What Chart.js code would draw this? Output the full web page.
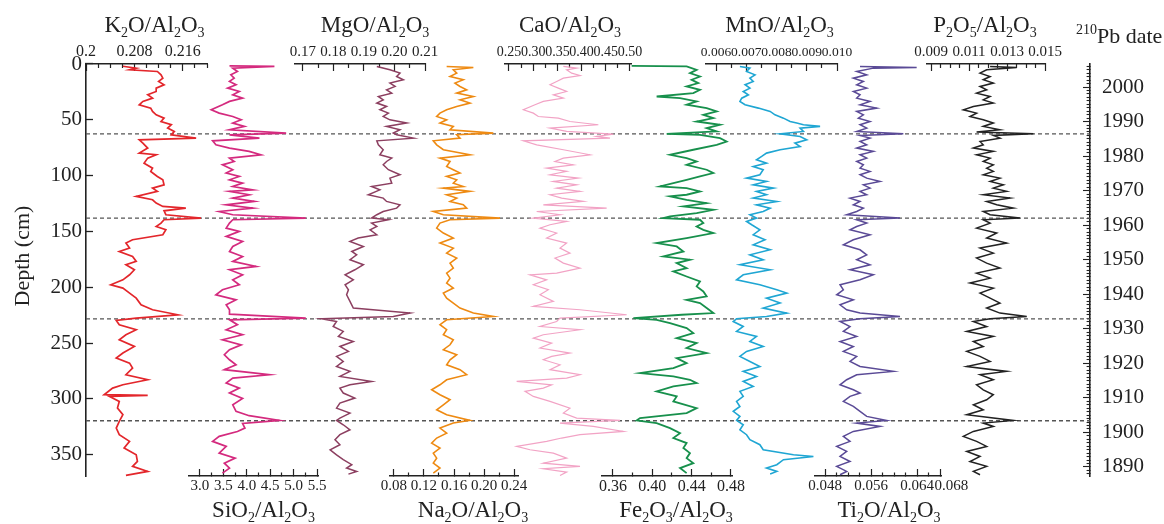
<!DOCTYPE html>
<html><head><meta charset="utf-8">
<script src="https://cdn.jsdelivr.net/npm/chart.js@4.4.1/dist/chart.umd.min.js"></script>
<style>html,body{margin:0;padding:0;background:#fff}</style>
</head><body>
<canvas id="c" width="1164" height="524"></canvas>
<script>
// ---------------- data (depth cm, ratio) ----------------
const K2O = [[2,0.2061],[3.7,0.2083],[5.2,0.2072],[6.7,0.2118],[9.7,0.2124],[12.7,0.2127],[15.6,0.2120],[18.6,0.2129],[21.6,0.2116],[24.6,0.2116],[27.6,0.2102],[30.6,0.2110],[33.5,0.2094],[36.5,0.2088],[39.5,0.2107],[42.5,0.2110],[45.5,0.2116],[48.5,0.2129],[51.5,0.2124],[54.4,0.2141],[57.4,0.2135],[60.4,0.2146],[63.4,0.2141],[66.4,0.2182],[67.9,0.2088],[70.9,0.2094],[75.3,0.2102],[79.8,0.2088],[81.3,0.2116],[84.3,0.2102],[88.8,0.2096],[93.3,0.2110],[96.2,0.2107],[100.7,0.2118],[103.7,0.2127],[108.2,0.2129],[111.2,0.2110],[114.1,0.2118],[118.6,0.2083],[121.6,0.2110],[124.6,0.2116],[127.6,0.2127],[129.1,0.2165],[131.5,0.2129],[135,0.2132],[138,0.2190],[139.5,0.2129],[142.5,0.2124],[145.5,0.2116],[148.5,0.2132],[152.9,0.2127],[157.4,0.2077],[160.4,0.2066],[164.9,0.2072],[167.9,0.2055],[172.4,0.2077],[176.8,0.2083],[179.8,0.2066],[184.3,0.2080],[188.8,0.2072],[193.3,0.2061],[197.7,0.2041],[200.7,0.2061],[205.2,0.2072],[209.7,0.2083],[215.6,0.2091],[220.1,0.2110],[224.6,0.2152],[227.6,0.2083],[229.7,0.2050],[233.5,0.2055],[238,0.2083],[242.5,0.2066],[247,0.2055],[252.9,0.2080],[258.9,0.2061],[263.4,0.2050],[267.9,0.2072],[272.4,0.2077],[278.3,0.2066],[282.8,0.2102],[287.3,0.2061],[290.3,0.2044],[296.2,0.2030],[296.8,0.2102],[297.7,0.2039],[302.2,0.2055],[308.2,0.2052],[314.1,0.2061],[320.1,0.2055],[326.1,0.2050],[332,0.2055],[338,0.2072],[344,0.2063],[350,0.2083],[355.9,0.2085],[360.4,0.2077],[364.9,0.2102],[368.5,0.2066]];

const SIO2 = [[1.6,3.63],[2.2,4.59],[3.7,3.70],[6.7,3.80],[9.7,3.66],[12.7,3.73],[15.6,3.63],[18.6,3.77],[21.6,3.59],[24.6,3.84],[27.6,3.70],[30.6,3.91],[33.5,3.63],[36.5,3.48],[41,3.24],[44,3.41],[47,3.70],[50,3.88],[52.9,3.70],[55.9,3.95],[58.9,3.63],[61.9,4.84],[63.4,3.63],[66.4,4.27],[68.8,3.27],[72.4,3.34],[75.3,3.63],[78.3,4.05],[81.3,4.30],[84.3,3.63],[87.3,3.73],[90.3,3.48],[94.7,3.70],[97.7,3.56],[100.7,3.84],[103.7,3.63],[106.7,3.91],[109.7,3.70],[112.7,4.13],[114.1,3.63],[117.1,4.05],[120.1,3.70],[123.1,4.16],[126.1,3.56],[129.1,4.13],[132.1,3.41],[135,3.70],[138,5.26],[139.5,3.70],[142.5,3.63],[147,3.56],[149.9,3.84],[154.4,3.56],[158.9,3.91],[163.4,3.70],[167.9,3.63],[172.4,3.91],[176.8,3.70],[181.3,4.20],[184.3,3.63],[188.8,3.91],[193.3,3.70],[197.7,3.84],[202.2,3.48],[206.7,3.34],[211.2,3.77],[215.6,3.56],[220.1,3.63],[224,3.63],[227.6,5.26],[229.1,3.63],[233.5,3.80],[238,3.56],[242.5,3.91],[247,3.48],[251.5,3.88],[255.9,3.63],[260.4,3.52],[264.9,3.63],[269.4,3.77],[273.8,3.52],[278.3,4.48],[281.3,3.70],[285.8,3.56],[290.3,3.84],[294.7,3.63],[299.5,3.91],[305.2,3.70],[311.1,3.77],[315,4.05],[319.2,4.70],[322,3.91],[326.1,3.96],[329.1,3.80],[333.5,3.41],[338,3.27],[342.5,3.56],[348.5,3.41],[353,3.75],[357.5,3.52],[361.9,3.63],[366.4,3.48]];

const MGO = [[2.2,0.1942],[5.2,0.1985],[8.2,0.2018],[11.2,0.2007],[14.1,0.2029],[17.1,0.1985],[20.1,0.2002],[23.1,0.1974],[26.1,0.1991],[29.1,0.1947],[32.1,0.1963],[35,0.1942],[38,0.1974],[41,0.1952],[44,0.1980],[47,0.1963],[50,0.1985],[52.9,0.2040],[55.9,0.1974],[58.9,0.2018],[61.9,0.1996],[63.4,0.2007],[66.4,0.2062],[68.8,0.1942],[72.4,0.1947],[76.8,0.1963],[81.3,0.1952],[84.3,0.1991],[87.3,0.1974],[90.3,0.1963],[94.7,0.1980],[99.2,0.2018],[102.2,0.1985],[106.7,0.1991],[109.7,0.1925],[112.7,0.1952],[117.1,0.1914],[120.1,0.1963],[123.1,0.1974],[126.1,0.2018],[129.1,0.2007],[132.1,0.1963],[135,0.1942],[138,0.1925],[139.5,0.1980],[142.5,0.1925],[145.5,0.1942],[148.5,0.1920],[152.9,0.1942],[155.9,0.1881],[158.9,0.1854],[163.4,0.1898],[167.9,0.1860],[170.9,0.1876],[175.3,0.1854],[179.8,0.1898],[184.3,0.1870],[188.8,0.1838],[193.3,0.1865],[197.7,0.1838],[202.2,0.1849],[206.7,0.1843],[212.6,0.1854],[218.6,0.1865],[223.1,0.2051],[226.1,0.1996],[228.2,0.1761],[230.6,0.1810],[235.1,0.1799],[239.5,0.1832],[244,0.1816],[248.5,0.1865],[253,0.1821],[257.4,0.1849],[261.9,0.1810],[266.4,0.1832],[270.9,0.1810],[275.3,0.1854],[279.8,0.1821],[284.3,0.1925],[287.3,0.1854],[290.3,0.1821],[294.7,0.1832],[299.2,0.1870],[303.7,0.1821],[308.2,0.1810],[312.7,0.1854],[317.1,0.1821],[319.2,0.1810],[323.1,0.1832],[327.6,0.1854],[332,0.1821],[336.5,0.1805],[341,0.1821],[345.5,0.1789],[350,0.1810],[354.4,0.1832],[358.9,0.1860],[361.9,0.1843],[364.9,0.1876],[367.3,0.1849]];

const NA2O = [[2.2,0.1502],[3.1,0.1858],[5.2,0.1591],[8.2,0.1636],[11.2,0.1547],[14.1,0.1724],[17.1,0.1613],[20.1,0.1680],[23.1,0.1769],[26.1,0.1636],[29.1,0.1858],[32.1,0.1680],[35,0.1813],[38,0.1636],[41,0.1502],[44,0.1413],[47,0.1369],[50,0.1502],[52.9,0.1413],[55.9,0.1591],[58.9,0.1547],[61.9,0.2124],[63.4,0.1636],[66.4,0.1680],[68.8,0.1324],[72.4,0.1369],[76.8,0.1458],[81.3,0.1813],[84.3,0.1413],[87.3,0.1547],[91.8,0.1502],[94.7,0.1591],[97.7,0.1680],[100.7,0.1502],[103.7,0.1636],[106.7,0.1591],[109.7,0.1724],[111.2,0.1458],[114.1,0.1813],[117.1,0.1502],[120.1,0.1636],[123.1,0.1547],[126.1,0.1724],[129.1,0.1769],[132.1,0.1324],[135,0.1458],[138,0.2213],[139.5,0.1547],[142.5,0.1413],[147,0.1369],[151.4,0.1458],[155.9,0.1591],[160.4,0.1413],[164.9,0.1591],[169.4,0.1502],[173.8,0.1636],[178.3,0.1547],[182.8,0.1591],[187.3,0.1502],[191.8,0.1547],[196.2,0.1502],[200.7,0.1591],[205.2,0.1458],[209.7,0.1502],[214.1,0.1591],[218.6,0.1680],[223.1,0.1858],[226.1,0.2124],[229.1,0.1502],[233.5,0.1413],[238,0.1502],[242.5,0.1458],[247,0.1591],[251.5,0.1547],[255.9,0.1458],[260.4,0.1636],[264.9,0.1547],[269.4,0.1502],[273.8,0.1680],[278.3,0.1769],[282.8,0.1502],[287.3,0.1413],[291.8,0.1302],[296.2,0.1413],[300.7,0.1547],[305.2,0.1458],[309.7,0.1369],[314.1,0.1502],[319.2,0.1813],[321.6,0.1591],[326.1,0.1413],[330.6,0.1502],[335,0.1369],[339.5,0.1302],[344,0.1413],[348.5,0.1324],[353,0.1369],[357.5,0.1324],[361.9,0.1413],[366.4,0.1324]];

const CAO = [[2.2,0.3623],[3.7,0.3898],[5.2,0.3691],[8.2,0.3795],[10.3,0.3967],[12.7,0.3623],[15.6,0.3485],[18.6,0.3347],[21.6,0.3519],[24.6,0.3691],[27.6,0.3416],[30.6,0.3623],[33.5,0.3209],[36.5,0.3037],[41,0.2796],[44,0.3003],[47,0.3106],[48.5,0.3519],[51.5,0.3760],[54.4,0.4346],[57.4,0.3347],[60.4,0.3691],[62.8,0.4656],[64.9,0.4311],[66.4,0.4587],[68.8,0.2796],[72.4,0.3072],[76.8,0.3623],[81.3,0.4174],[84.3,0.3623],[87.3,0.3450],[90.3,0.3829],[93.3,0.3278],[96.2,0.3691],[99.2,0.3347],[102.2,0.3933],[105.2,0.3416],[108.2,0.3898],[111.2,0.3485],[114.1,0.3967],[117.1,0.3347],[120.1,0.3588],[123.1,0.4036],[126.1,0.3209],[129.1,0.4518],[132.1,0.3072],[135,0.3554],[138,0.3003],[141,0.3691],[144,0.3347],[147,0.3140],[151.4,0.3485],[155.9,0.3278],[160.4,0.3691],[164.9,0.3554],[169.4,0.3760],[173.8,0.3450],[178.3,0.3623],[182.8,0.3967],[187.3,0.3485],[188.8,0.2934],[193.3,0.3278],[197.7,0.3003],[202.2,0.3313],[206.7,0.3140],[212.6,0.3416],[217.1,0.3003],[220.1,0.3967],[224.6,0.4931],[227.6,0.3554],[230.6,0.3485],[235.1,0.3140],[238,0.3967],[242.5,0.3209],[245.5,0.3003],[250,0.3382],[254.4,0.3140],[258.9,0.3760],[261.9,0.3382],[264.9,0.3209],[269.4,0.3554],[273.8,0.3347],[278.3,0.3967],[281.3,0.3691],[284.3,0.2658],[287.3,0.3382],[290.3,0.3209],[293.2,0.2831],[297.7,0.3003],[302.2,0.3347],[308.2,0.3760],[312.7,0.3623],[317.1,0.3898],[319.2,0.4793],[321.6,0.3554],[324.6,0.4242],[329.1,0.4862],[332,0.3967],[335,0.3588],[338,0.3278],[342.5,0.2658],[345.5,0.2934],[348.5,0.3416],[353,0.3691],[357.5,0.3209],[360.4,0.3967],[362.5,0.3209],[365.5,0.3691],[368.5,0.3554]];

const FE2O3 = [[1.6,0.3790],[2.2,0.4349],[5.2,0.4451],[8.2,0.4383],[11.2,0.4485],[14.1,0.4400],[17.1,0.4468],[20.1,0.4349],[23.1,0.4485],[26.1,0.4417],[29.1,0.4044],[30.6,0.4282],[33.5,0.4451],[36.5,0.4349],[39.5,0.4553],[42.5,0.4655],[45.5,0.4519],[48.5,0.4621],[51.5,0.4451],[54.4,0.4689],[57.4,0.4553],[60.4,0.4655],[62.5,0.4146],[63.4,0.4485],[66.4,0.4689],[69.4,0.4756],[72.4,0.4655],[76.8,0.4417],[81.3,0.4180],[84.3,0.4349],[87.3,0.4451],[90.3,0.4349],[94.7,0.4553],[97.7,0.4621],[100.7,0.4485],[103.7,0.4349],[106.7,0.4214],[109.7,0.4078],[111.2,0.4349],[114.1,0.4485],[117.1,0.4349],[118.6,0.4180],[121.6,0.4349],[124.6,0.4553],[127.6,0.4316],[130.6,0.4621],[133.5,0.4451],[136.5,0.4180],[138,0.4112],[139.5,0.4485],[142.5,0.4519],[145.5,0.4451],[148.5,0.4519],[151.4,0.4621],[155.9,0.4349],[160.4,0.4044],[163.4,0.4248],[167.9,0.4316],[172.4,0.4112],[175.3,0.4383],[178.3,0.4248],[182.8,0.4349],[185.8,0.4214],[190.3,0.4349],[194.8,0.4485],[199.2,0.4451],[203.7,0.4519],[208.2,0.4553],[211.2,0.4349],[214.1,0.4485],[218.6,0.4553],[223.1,0.4621],[224.6,0.4299],[227.6,0.3807],[229.1,0.4044],[232.1,0.4180],[236.5,0.4349],[241,0.4417],[245.5,0.4248],[250,0.4451],[254.4,0.4349],[258.9,0.4553],[263.4,0.4248],[267.9,0.4349],[272.4,0.4214],[276.8,0.3875],[279.8,0.4214],[282.8,0.4383],[285.8,0.4451],[288.8,0.4214],[293.2,0.4044],[297.7,0.4248],[302.2,0.4214],[308.2,0.4451],[312.7,0.4349],[317.1,0.3875],[319.2,0.3841],[321.6,0.4044],[326.1,0.4180],[330.6,0.4282],[335,0.4214],[339.5,0.4349],[344,0.4316],[348.5,0.4383],[353,0.4349],[357.5,0.4417],[361.9,0.4282],[366.4,0.4349]];

const MNO = [[2.2,0.00679],[3.7,0.00712],[6.7,0.00701],[9.7,0.00729],[12.7,0.00712],[15.6,0.00723],[18.6,0.00696],[21.6,0.00712],[24.6,0.00690],[27.6,0.00707],[30.6,0.00685],[33.5,0.00679],[36.5,0.00696],[39.5,0.00740],[42.5,0.00779],[45.5,0.00795],[48.5,0.00823],[51.5,0.00845],[52.9,0.00867],[54.4,0.00889],[55.9,0.00944],[57.4,0.00878],[60.4,0.00889],[62.5,0.00812],[64.9,0.00878],[67.9,0.00900],[70.9,0.00861],[73.9,0.00878],[76.8,0.00812],[79.8,0.00767],[82.8,0.00751],[85.8,0.00734],[88.8,0.00767],[91.8,0.00723],[94.7,0.00756],[99.2,0.00745],[102.2,0.00701],[105.2,0.00767],[108.2,0.00723],[111.2,0.00790],[114.1,0.00734],[117.1,0.00767],[120.1,0.00723],[123.1,0.00801],[126.1,0.00734],[129.1,0.00779],[132.1,0.00756],[135,0.00712],[138,0.00734],[141,0.00701],[144,0.00718],[148.5,0.00745],[152.9,0.00723],[157.4,0.00762],[161.9,0.00723],[166.4,0.00779],[170.9,0.00712],[175.3,0.00756],[179.8,0.00679],[184.3,0.00779],[188.8,0.00690],[193.3,0.00668],[197.7,0.00745],[202.2,0.00801],[205.2,0.00834],[209.7,0.00767],[214.1,0.00812],[218.6,0.00756],[223.1,0.00834],[226.1,0.00767],[228.2,0.00668],[230.6,0.00657],[235.1,0.00690],[239.5,0.00668],[244,0.00734],[248.5,0.00712],[253,0.00756],[257.4,0.00701],[261.9,0.00679],[266.4,0.00712],[270.9,0.00745],[275.3,0.00690],[279.8,0.00734],[284.3,0.00690],[288.8,0.00723],[293.2,0.00679],[297.7,0.00690],[302.2,0.00668],[306.7,0.00679],[311.1,0.00657],[315.6,0.00679],[319.2,0.00668],[323.1,0.00690],[327.6,0.00679],[332,0.00701],[336.5,0.00712],[341,0.00745],[345.5,0.00756],[350,0.00856],[351.5,0.00922],[354.4,0.00823],[358.9,0.00801],[361.9,0.00767],[364.9,0.00801],[367.3,0.00779]];

const TIO2 = [[2.2,0.05409],[3.1,0.06394],[3.7,0.05641],[6.7,0.05351],[9.7,0.05525],[12.7,0.05293],[15.6,0.05467],[18.6,0.05351],[21.6,0.05525],[24.6,0.05293],[27.6,0.05409],[30.6,0.05351],[33.5,0.05583],[36.5,0.05409],[39.5,0.05699],[42.5,0.05351],[45.5,0.05467],[48.5,0.05380],[51.5,0.05583],[54.4,0.05409],[57.4,0.05525],[60.4,0.05351],[62.5,0.06162],[64,0.05409],[66.4,0.05583],[69.4,0.05409],[72.4,0.05525],[75.3,0.05351],[78.3,0.05641],[81.3,0.05409],[84.3,0.05525],[87.3,0.05351],[90.3,0.05467],[93.3,0.05409],[96.2,0.05583],[99.2,0.05409],[102.2,0.05525],[105.2,0.05757],[108.2,0.05467],[111.2,0.05583],[114.1,0.05409],[117.1,0.05525],[120.1,0.05235],[123.1,0.05409],[126.1,0.05293],[129.1,0.05467],[132.1,0.05351],[135,0.05177],[138,0.06104],[139.5,0.05351],[142.5,0.05525],[145.5,0.05351],[148.5,0.05235],[152.9,0.05583],[157.4,0.05293],[161.9,0.05119],[166.4,0.05409],[170.9,0.05525],[175.3,0.05351],[179.8,0.05583],[184.3,0.05235],[188.8,0.05641],[193.3,0.05409],[197.7,0.05061],[202.2,0.05119],[206.7,0.05003],[211.2,0.05293],[215.6,0.05061],[220.1,0.05177],[223.1,0.05409],[226.1,0.06104],[228.2,0.05409],[230.6,0.05061],[235.1,0.05235],[239.5,0.05119],[244,0.05351],[248.5,0.05061],[253,0.05293],[257.4,0.05119],[261.9,0.05351],[266.4,0.05235],[270.9,0.05409],[275.3,0.05988],[278.3,0.05351],[282.8,0.05177],[287.3,0.05061],[291.8,0.05293],[294.7,0.05409],[297.7,0.05235],[302.2,0.05119],[306.7,0.05293],[311.1,0.05409],[315.6,0.05525],[319.2,0.05872],[321.6,0.05351],[324.6,0.05757],[329.1,0.05293],[333.5,0.05119],[338,0.05235],[342.5,0.05003],[347,0.05177],[351.5,0.05061],[356,0.05235],[360.4,0.05003],[364.9,0.05177],[367.9,0.05061]];

const P2O5 = [[2.2,0.01211],[3.1,0.01351],[5.2,0.01193],[8.2,0.01158],[11.2,0.01211],[14.1,0.01175],[17.1,0.01228],[20.1,0.01158],[23.1,0.01193],[26.1,0.01140],[29.1,0.01211],[32.1,0.01175],[35,0.01228],[38,0.01123],[41,0.01070],[44,0.01140],[47,0.01105],[50,0.01175],[52.9,0.01228],[55.9,0.01175],[58.9,0.01263],[61,0.01140],[62.5,0.01439],[64,0.01228],[66.4,0.01263],[69.4,0.01158],[72.4,0.01175],[75.3,0.01123],[78.3,0.01228],[81.3,0.01140],[84.3,0.01211],[87.3,0.01175],[90.3,0.01228],[93.3,0.01193],[96.2,0.01228],[99.2,0.01175],[102.2,0.01263],[105.2,0.01211],[108.2,0.01281],[111.2,0.01228],[114.1,0.01298],[117.1,0.01175],[120.1,0.01316],[123.1,0.01193],[126.1,0.01246],[129.1,0.01333],[132.1,0.01175],[135,0.01211],[138,0.01368],[139.5,0.01175],[142.5,0.01211],[147,0.01140],[151.4,0.01246],[155.9,0.01193],[160.4,0.01298],[164.9,0.01158],[169.4,0.01228],[173.8,0.01140],[178.3,0.01193],[182.8,0.01263],[187.3,0.01140],[191.8,0.01211],[196.2,0.01105],[200.7,0.01228],[205.2,0.01158],[209.7,0.01211],[214.1,0.01263],[218.6,0.01193],[223.1,0.01263],[226.1,0.01404],[228.2,0.01211],[230.6,0.01123],[235.1,0.01193],[239.5,0.01088],[244,0.01228],[248.5,0.01123],[253,0.01175],[257.4,0.01088],[261.9,0.01158],[266.4,0.01211],[270.9,0.01088],[275.3,0.01298],[278.3,0.01158],[282.8,0.01228],[287.3,0.01140],[291.8,0.01175],[296.2,0.01228],[300.7,0.01193],[305.2,0.01123],[309.7,0.01175],[314.1,0.01088],[319.2,0.01333],[321.6,0.01175],[324.6,0.01228],[329.1,0.01123],[333.5,0.01070],[338,0.01140],[342.5,0.01193],[347,0.01088],[351.5,0.01158],[356,0.01105],[360.4,0.01193],[364.9,0.01123],[367.9,0.01158]];

// boundary depths (dashed lines)
const BOUNDARY_DEPTHS = [62.5, 138, 228.3, 319.5];

// tick values and labels
const DEPTH_TICKS = [0,50,100,150,200,250,300,350];
const DATE_TICKS = [1890,1900,1910,1920,1930,1940,1950,1960,1970,1980,1990,2000];
const K2O_TICKS = [0.2,0.208,0.216];           const K2O_LABELS = ['0.2','0.208','0.216'];
const MGO_TICKS = [0.17,0.18,0.19,0.20,0.21];  const MGO_LABELS = ['0.17','0.18','0.19','0.20','0.21'];
const CAO_TICKS = [0.25,0.30,0.35,0.40,0.45,0.50]; const CAO_LABELS = ['0.25','0.30','0.35','0.40','0.45','0.50'];
const MNO_TICKS = [0.006,0.007,0.008,0.009,0.010]; const MNO_LABELS = ['0.006','0.007','0.008','0.009','0.010'];
const P2O5_TICKS = [0.009,0.011,0.013,0.015];  const P2O5_LABELS = ['0.009','0.011','0.013','0.015'];
const SIO2_TICKS = [3.0,3.5,4.0,4.5,5.0,5.5];  const SIO2_LABELS = ['3.0','3.5','4.0','4.5','5.0','5.5'];
const NA2O_TICKS = [0.08,0.12,0.16,0.20,0.24]; const NA2O_LABELS = ['0.08','0.12','0.16','0.20','0.24'];
const FE2O3_TICKS = [0.36,0.40,0.44,0.48];     const FE2O3_LABELS = ['0.36','0.40','0.44','0.48'];
const TIO2_TICKS = [0.048,0.056,0.064,0.068];  const TIO2_LABELS = ['0.048','0.056','0.064','\u2007\u2007\u20070.068'];

// ---------------- layout / style ----------------
const SERIF = "'Liberation Serif', 'Times New Roman', 'DejaVu Serif', serif";
const INK = '#222';

const TOP_AXES = [
  {id:'xK2O', w:121, min:0.200, max:0.220, step:0.002, t:K2O_TICKS, l:K2O_LABELS, fs:16},
  {id:'gT1', w:88},
  {id:'xMgO', w:130, min:0.16738, max:0.2100, step:0.005, t:MGO_TICKS, l:MGO_LABELS, fs:15},
  {id:'gT2', w:80},
  {id:'xCaO', w:126, min:0.24174, max:0.50207, step:0.025, t:CAO_TICKS, l:CAO_LABELS, fs:14},
  {id:'gT3', w:75},
  {id:'xMnO', w:131, min:0.005669, max:0.0100, step:0.0005, t:MNO_TICKS, l:MNO_LABELS, fs:13.5},
  {id:'gT4', w:90},
  {id:'xP2O5', w:118, min:0.008789, max:0.0150, step:0.0005, t:P2O5_TICKS, l:P2O5_LABELS, fs:15},
  {id:'gT5', w:45}
];
const BOTTOM_AXES = [
  {id:'gB1', w:103},
  {id:'xSiO2', w:129, min:2.765, max:5.521, step:0.25, t:SIO2_TICKS, l:SIO2_LABELS, fs:15},
  {id:'gB2', w:72},
  {id:'xNa2O', w:128, min:0.07467, max:0.24533, step:0.02, t:NA2O_TICKS, l:NA2O_LABELS, fs:15},
  {id:'gB3', w:84},
  {id:'xFe2O3', w:130, min:0.34881, max:0.48106, step:0.02, t:FE2O3_TICKS, l:FE2O3_LABELS, fs:16},
  {id:'gB4', w:83},
  {id:'xTiO2', w:126, min:0.04626, max:0.06817, step:0.002, t:TIO2_TICKS, l:TIO2_LABELS, fs:15},
  {id:'gB5', w:149}
];

function buildTicks(min, max, step, majors, labels) {
  const out = [];
  const s = Math.ceil(min / step - 1e-6), e = Math.floor(max / step + 1e-6);
  for (let k = s; k <= e; k++) {
    const v = +(k * step).toFixed(9);
    const mi = majors.findIndex(m => Math.abs(m - v) < step * 1e-3);
    out.push({value: v, major: mi >= 0, lbl: mi >= 0 ? labels[mi] : ''});
  }
  return out;
}
const labelCb = (v, i, ticks) => (ticks[i] && ticks[i].lbl) || '';
const tickDash = (pos) => (ctx) => {
  if (!ctx.tick || ctx.tick.major) return [];
  return (pos === 'top' || pos === 'left') ? [0, 3, 4, 100] : [4, 100];
};

function axisOptions(a, pos, idx) {
  const H = pos === 'top' ? 64 : 48;
  const base = {
    type: 'linear', position: pos, stack: 'S', stackWeight: a.w,
    weight: pos === 'top' ? 100 - idx : idx + 1,
    afterFit: s => { s.height = H; }
  };
  if (!a.t) {
    return Object.assign(base, {display: true, grid: {display: false}, border: {display: false}, ticks: {display: false}});
  }
  return Object.assign(base, {
    min: a.min, max: a.max,
    afterBuildTicks: s => { s.ticks = buildTicks(a.min, a.max, a.step, a.t, a.l); },
    border: {display: true, color: INK, width: 1.5},
    grid: {display: true, drawOnChartArea: false, drawTicks: true, tickLength: -7,
           tickColor: INK, tickWidth: 1.2, tickBorderDash: tickDash(pos)},
    ticks: {autoSkip: false, maxRotation: 0, minRotation: 0, padding: pos === 'top' ? 10 : 8,
            color: INK, font: {family: SERIF, size: a.fs}, callback: labelCb}
  });
}

const scales = {};
TOP_AXES.forEach((a, i) => scales[a.id] = axisOptions(a, 'top', i));
BOTTOM_AXES.forEach((a, i) => scales[a.id] = axisOptions(a, 'bottom', i));
scales.xFull = {type: 'linear', position: 'bottom', display: false, min: 0, max: 1, weight: 0};
scales.y = {
  type: 'linear', position: 'left', reverse: true, min: 0, max: 369,
  afterBuildTicks: s => { s.ticks = buildTicks(0, 369, 50, DEPTH_TICKS, DEPTH_TICKS.map(String)); },
  afterFit: s => { s.width = 86; },
  border: {display: true, color: INK, width: 1.6},
  grid: {display: true, drawOnChartArea: false, tickLength: -7, tickColor: INK, tickWidth: 1.3},
  ticks: {autoSkip: false, padding: 11, color: INK, font: {family: SERIF, size: 21}, callback: labelCb}
};
scales.yDate = {
  type: 'linear', position: 'right', min: 1887.39, max: 2006.66,
  afterBuildTicks: s => { s.ticks = buildTicks(1887.39, 2006.66, 1, DATE_TICKS, DATE_TICKS.map(String)); },
  afterFit: s => { s.width = 74; },
  border: {display: true, color: INK, width: 1.6},
  grid: {display: true, drawOnChartArea: false, tickLength: -7, tickColor: INK, tickWidth: 1.1, tickBorderDash: tickDash('right')},
  ticks: {autoSkip: false, padding: 19, color: INK, font: {family: SERIF, size: 21}, callback: labelCb}
};

const SERIES = [
  {data: K2O,   axis: 'xK2O',   color: '#e3262b', width: 1.7},
  {data: SIO2,  axis: 'xSiO2',  color: '#d42a7e', width: 1.7},
  {data: MGO,   axis: 'xMgO',   color: '#8c3f60', width: 1.5},
  {data: NA2O,  axis: 'xNa2O',  color: '#ee8a12', width: 1.6},
  {data: CAO,   axis: 'xCaO',   color: '#f2a3c5', width: 1.2},
  {data: FE2O3, axis: 'xFe2O3', color: '#17904c', width: 1.8},
  {data: MNO,   axis: 'xMnO',   color: '#1fa6d3', width: 1.6},
  {data: TIO2,  axis: 'xTiO2',  color: '#5a4a96', width: 1.5},
  {data: P2O5,  axis: 'xP2O5',  color: '#222222', width: 1.5}
];

const datasets = SERIES.map(s => ({
  data: s.data.map(p => ({x: p[1], y: p[0]})),
  xAxisID: s.axis, yAxisID: 'y', showLine: true, borderColor: s.color, borderWidth: s.width,
  pointRadius: 0, fill: false, tension: 0, clip: false, order: 1
}));
BOUNDARY_DEPTHS.forEach(d => datasets.push({
  data: [{x: 0, y: d}, {x: 1, y: d}], xAxisID: 'xFull', yAxisID: 'y', showLine: true,
  borderColor: '#555', borderWidth: 1.3, borderDash: [4, 3], pointRadius: 0, order: 2
}));

// titles (rich text with sub/superscripts)
const PANEL_TITLES = [
  {axis: 'xK2O',  dx: 8,  parts: [['K'],['2',1],['O/Al'],['2',1],['O'],['3',1]]},
  {axis: 'xMgO',  dx: 15, parts: [['MgO/Al'],['2',1],['O'],['3',1]]},
  {axis: 'xCaO',  dx: 2,  parts: [['CaO/Al'],['2',1],['O'],['3',1]]},
  {axis: 'xMnO',  dx: 8,  parts: [['MnO/Al'],['2',1],['O'],['3',1]]},
  {axis: 'xP2O5', dx: -1, parts: [['P'],['2',1],['O'],['5',1],['/Al'],['2',1],['O'],['3',1]]},
  {axis: 'xSiO2', dx: 10, parts: [['SiO'],['2',1],['/Al'],['2',1],['O'],['3',1]]},
  {axis: 'xNa2O', dx: 19, parts: [['Na'],['2',1],['O/Al'],['2',1],['O'],['3',1]]},
  {axis: 'xFe2O3',dx: 9,  parts: [['Fe'],['2',1],['O'],['3',1],['/Al'],['2',1],['O'],['3',1]]},
  {axis: 'xTiO2', dx: 11, parts: [['Ti'],['2',1],['O/Al'],['2',1],['O'],['3',1]]}
];
function drawRich(ctx, parts, x, y, size, align) {
  const big = size + 'px ' + SERIF, small = Math.round(size * 0.62) + 'px ' + SERIF;
  let total = 0;
  parts.forEach(p => { ctx.font = p[1] ? small : big; total += ctx.measureText(p[0]).width; });
  let cx = align === 'left' ? x : x - total / 2;
  ctx.textAlign = 'left'; ctx.textBaseline = 'alphabetic';
  parts.forEach(p => {
    ctx.font = p[1] ? small : big;
    const dy = p[1] === 1 ? size * 0.22 : p[1] === 2 ? -size * 0.4 : 0;
    ctx.fillText(p[0], cx, y + dy);
    cx += ctx.measureText(p[0]).width;
  });
}
const titlePlugin = {
  id: 'panelTitles',
  afterDraw(chart) {
    const ctx = chart.ctx;
    ctx.save();
    ctx.fillStyle = INK;
    PANEL_TITLES.forEach(t => {
      const s = chart.scales[t.axis];
      const y = s.position === 'top' ? 32 : 517;
      drawRich(ctx, t.parts, (s.left + s.right) / 2 + t.dx, y, 23);
    });
    const yd = chart.scales.yDate;
    drawRich(ctx, [['210', 2], ['Pb date']], yd.left - 14, 43, 22, 'left');
    ctx.translate(23, 256);
    ctx.rotate(-Math.PI / 2);
    ctx.font = '22px ' + SERIF;
    ctx.textAlign = 'center'; ctx.textBaseline = 'middle';
    ctx.fillText('Depth (cm)', 0, 0);
    ctx.restore();
  }
};

new Chart(document.getElementById('c'), {
  type: 'scatter',
  data: {datasets},
  options: {
    responsive: false, animation: false, events: [],
    layout: {padding: 0},
    plugins: {legend: {display: false}, title: {display: false}, tooltip: {enabled: false}},
    scales
  },
  plugins: [titlePlugin]
});
</script>
</body></html>
